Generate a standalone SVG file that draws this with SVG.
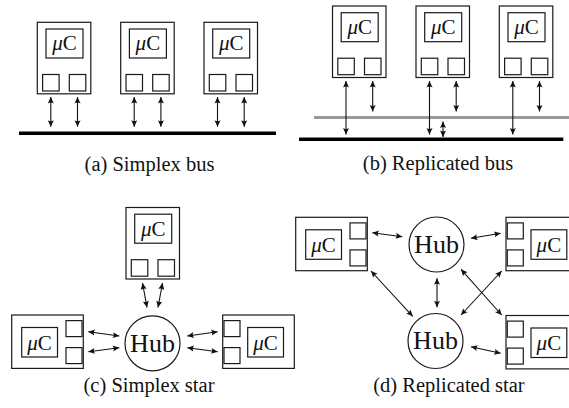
<svg xmlns="http://www.w3.org/2000/svg" xmlns:xlink="http://www.w3.org/1999/xlink" width="569" height="408" viewBox="0 0 569 408">
  <style>
    .box { fill: #fff; stroke: #1a1a1a; stroke-width: 1.2; }
    .sq { fill: none; stroke: #1a1a1a; stroke-width: 1.2; }
    text { font-family: 'Liberation Serif', 'DejaVu Serif', serif; fill: #111; text-anchor: middle; }
    .mc { font-size: 21px; }
    .mu { font-style: italic; }
    .hubc { fill: #fff; stroke: #1a1a1a; stroke-width: 1.2; }
    .hubt { font-size: 26px; }
    .cap { font-size: 20.5px; }
    .arr { fill: none; stroke: #111; stroke-width: 1.1; marker-start: url(#ah); marker-end: url(#ah); }
    .bus { stroke: #000; stroke-width: 3.6; }
    .bus2 { stroke: #999; stroke-width: 3.2; }
  </style>
  <defs>
    <marker id="ah" viewBox="-8 -4 9 8" markerWidth="9" markerHeight="8" refX="0" refY="0" orient="auto-start-reverse" markerUnits="userSpaceOnUse">
      <path d="M0,0 L-6.5,-3 Q-4.6,0 -6.5,3 Z" fill="#111"/>
    </marker>
    <!-- upright controller: processor box on top, two ports below -->
    <g id="vnode">
      <rect class="box" width="53.5" height="71.5"/>
      <rect class="sq" x="8.7" y="6.7" width="37" height="29"/>
      <rect class="sq" x="5.3" y="52.2" width="16.5" height="16.5"/>
      <rect class="sq" x="32" y="52.2" width="16.5" height="16.5"/>
    </g>
    <!-- lying controller, ports on the right -->
    <g id="hnodeR">
      <rect class="box" width="71.6" height="53.4"/>
      <rect class="sq" x="10" y="12.5" width="35.8" height="29.5"/>
      <rect class="sq" x="54.3" y="5.6" width="16" height="16"/>
      <rect class="sq" x="54.3" y="32.6" width="16" height="16"/>
    </g>
    <!-- lying controller, ports on the left -->
    <g id="hnodeL">
      <rect class="box" width="71.6" height="53.4"/>
      <rect class="sq" x="25" y="12.5" width="35.8" height="29.5"/>
      <rect class="sq" x="1.3" y="5.6" width="16" height="16"/>
      <rect class="sq" x="1.3" y="32.6" width="16" height="16"/>
    </g>
  </defs>

  <!-- (a) simplex bus -->
  <g id="a-node1" transform="translate(37.3,22.3)"><use xlink:href="#vnode"/><text class="mc" x="27.2" y="28"><tspan class="mu">μ</tspan>C</text></g>
  <g id="a-node2" transform="translate(120.7,22.3)"><use xlink:href="#vnode"/><text class="mc" x="27.2" y="28"><tspan class="mu">μ</tspan>C</text></g>
  <g id="a-node3" transform="translate(204,22.3)"><use xlink:href="#vnode"/><text class="mc" x="27.2" y="28"><tspan class="mu">μ</tspan>C</text></g>

  <!-- (b) replicated bus -->
  <g id="b-node1" transform="translate(332.5,6)"><use xlink:href="#vnode"/><text class="mc" x="27.2" y="28"><tspan class="mu">μ</tspan>C</text></g>
  <g id="b-node2" transform="translate(416,6)"><use xlink:href="#vnode"/><text class="mc" x="27.2" y="28"><tspan class="mu">μ</tspan>C</text></g>
  <g id="b-node3" transform="translate(499.3,6)"><use xlink:href="#vnode"/><text class="mc" x="27.2" y="28"><tspan class="mu">μ</tspan>C</text></g>

  <!-- (c) simplex star -->
  <g id="c-top" transform="translate(126,207.5)"><use xlink:href="#vnode"/><text class="mc" x="27.2" y="28"><tspan class="mu">μ</tspan>C</text></g>
  <g id="c-left" transform="translate(11.7,315)"><use xlink:href="#hnodeR"/><text class="mc" x="27.9" y="34.5"><tspan class="mu">μ</tspan>C</text></g>
  <g id="c-right" transform="translate(222.7,315)"><use xlink:href="#hnodeL"/><text class="mc" x="42.9" y="34.5"><tspan class="mu">μ</tspan>C</text></g>
  <g id="c-hub"><circle class="hubc" cx="152.5" cy="343.3" r="27.5"/><text class="hubt" x="152.5" y="351.5">Hub</text></g>

  <!-- (d) replicated star -->
  <g id="d-tl" transform="translate(295.7,217.3)"><use xlink:href="#hnodeR"/><text class="mc" x="27.9" y="34.5"><tspan class="mu">μ</tspan>C</text></g>
  <g id="d-tr" transform="translate(506,217.3)"><use xlink:href="#hnodeL"/><text class="mc" x="42.9" y="34.5"><tspan class="mu">μ</tspan>C</text></g>
  <g id="d-br" transform="translate(506,315.5)"><use xlink:href="#hnodeL"/><text class="mc" x="42.9" y="34.5"><tspan class="mu">μ</tspan>C</text></g>
  <g id="d-hub1"><circle class="hubc" cx="436.5" cy="244.5" r="27.5"/><text class="hubt" x="436.5" y="252.7">Hub</text></g>
  <g id="d-hub2"><circle class="hubc" cx="435.5" cy="341" r="27.5"/><text class="hubt" x="435.5" y="349.2">Hub</text></g>

  <!-- buses and links -->
  <g id="connectors">
    <line class="bus" x1="19" y1="133.3" x2="276" y2="133.3"/>
    <line class="bus2" x1="314" y1="117.5" x2="569" y2="117.5"/>
    <line class="bus" x1="299" y1="139.3" x2="563.3" y2="139.3"/>

    <line class="arr" x1="50.8" y1="97" x2="50.8" y2="126.7"/>
    <line class="arr" x1="77.5" y1="97" x2="77.5" y2="126.7"/>
    <line class="arr" x1="134.2" y1="97" x2="134.2" y2="126.7"/>
    <line class="arr" x1="160.9" y1="97" x2="160.9" y2="126.7"/>
    <line class="arr" x1="217.5" y1="97" x2="217.5" y2="126.7"/>
    <line class="arr" x1="244.2" y1="97" x2="244.2" y2="126.7"/>

    <line class="arr" x1="346" y1="81" x2="346" y2="134.5"/>
    <line class="arr" x1="372.7" y1="81" x2="372.7" y2="111.5"/>
    <line class="arr" x1="429.5" y1="81" x2="429.5" y2="134.5"/>
    <line class="arr" x1="456.2" y1="81" x2="456.2" y2="111.5"/>
    <line class="arr" x1="512.8" y1="81" x2="512.8" y2="134.5"/>
    <line class="arr" x1="539.5" y1="81" x2="539.5" y2="111.5"/>
    <line class="arr" x1="443" y1="121.5" x2="443" y2="137"/>

    <line class="arr" x1="142.5" y1="283" x2="147" y2="307.5"/>
    <line class="arr" x1="162.5" y1="283" x2="158" y2="307.5"/>
    <line class="arr" x1="88.3" y1="331.7" x2="119.3" y2="336"/>
    <line class="arr" x1="88.3" y1="351.7" x2="119.3" y2="347.7"/>
    <line class="arr" x1="187.3" y1="336" x2="217.7" y2="331.7"/>
    <line class="arr" x1="187.3" y1="347.7" x2="217.7" y2="351.7"/>

    <line class="arr" x1="372.3" y1="232.7" x2="402.3" y2="236.7"/>
    <line class="arr" x1="471" y1="238.3" x2="500.7" y2="233.3"/>
    <line class="arr" x1="471" y1="346.7" x2="500.7" y2="353.3"/>
    <line class="arr" x1="437" y1="278.3" x2="437" y2="307.3"/>
    <line class="arr" x1="371" y1="271" x2="412.7" y2="316.3"/>
    <line class="arr" x1="461" y1="269.3" x2="501.7" y2="315"/>
    <line class="arr" x1="461" y1="315" x2="501.7" y2="271"/>
  </g>

  <!-- captions -->
  <text class="cap" x="149.5" y="171">(a) Simplex bus</text>
  <text class="cap" x="438" y="169.5">(b) Replicated bus</text>
  <text class="cap" x="149" y="391.7">(c) Simplex star</text>
  <text class="cap" x="449" y="391.7">(d) Replicated star</text>
</svg>
